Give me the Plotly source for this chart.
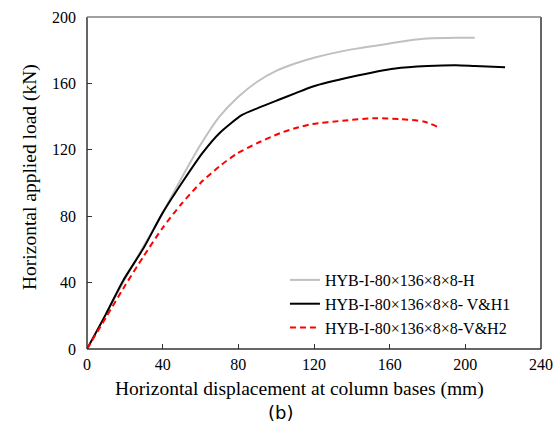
import plotly.graph_objects as go

# Series data (horizontal displacement mm, horizontal load kN)
h_x = [0, 10, 20, 30, 40, 50, 60, 70, 80, 90, 100, 110, 120, 140, 154, 170, 180, 195, 205]
h_y = [0, 21, 42, 62, 82, 103, 123, 140, 152, 161, 167.5, 172, 175.5, 180.5, 183, 185.8, 187, 187.5, 187.5]

vh1_x = [0, 10, 19, 30, 40, 51, 61, 70, 82, 90, 101, 110, 119, 140, 163, 180, 195, 205, 221]
vh1_y = [0, 21, 41, 61, 82, 101.5, 118, 130, 141, 145, 150, 154, 158, 164, 169, 170.5, 171, 170.5, 169.7]

vh2_x = [0, 10, 20, 30, 40, 50, 60, 70, 79, 90, 102, 110, 119, 135, 152, 165, 178, 185]
vh2_y = [0, 19, 38, 56, 73, 87.5, 100, 110, 117.5, 124, 130, 133, 135.5, 137.5, 139, 138.5, 137, 134]

names = ["HYB-I-80×136×8×8-H", "HYB-I-80×136×8×8- V&H1", "HYB-I-80×136×8×8-V&H2"]
x_ticks = [0, 40, 80, 120, 160, 200, 240]
y_ticks = [0, 40, 80, 120, 160, 200]

fig = go.Figure()
fig.add_trace(go.Scatter(x=h_x, y=h_y, mode="lines", name=names[0],
                         line=dict(color="#C0C0C0", width=2, shape="spline", smoothing=0.7)))
fig.add_trace(go.Scatter(x=vh1_x, y=vh1_y, mode="lines", name=names[1],
                         line=dict(color="#000000", width=2, shape="spline", smoothing=0.7)))
fig.add_trace(go.Scatter(x=vh2_x, y=vh2_y, mode="lines", name=names[2],
                         line=dict(color="#FF0000", width=2, dash="6px,4px",
                                   shape="spline", smoothing=0.7)))

serif = "Liberation Serif, Times New Roman, serif"
fig.update_layout(
    width=555, height=426,
    margin=dict(l=87, r=14, t=17, b=77, autoexpand=False),
    paper_bgcolor="white", plot_bgcolor="white",
    font=dict(family=serif, size=16, color="#000000"),
    showlegend=True,
    legend=dict(x=0.436, y=0.259, xanchor="left", yanchor="top",
                bgcolor="rgba(0,0,0,0)", font=dict(family=serif, size=16),
                tracegroupgap=0),
    xaxis=dict(range=[0, 240], tickvals=x_ticks, ticks="inside", ticklen=5,
               tickcolor="#333333", showgrid=False, zeroline=False, showline=False,
               automargin=False, ticklabelstandoff=4,
               tickfont=dict(family=serif, size=16)),
    yaxis=dict(range=[0, 200], tickvals=y_ticks, ticks="inside", ticklen=5,
               tickcolor="#333333", showgrid=False, zeroline=False, showline=False,
               automargin=False, ticklabelstandoff=10,
               tickfont=dict(family=serif, size=16)),
)
# plot frame: dark left/bottom/right, grey top
for (x0, y0, x1, y1, col) in [(0, 0, 1, 0, "#333333"), (0, 0, 0, 1, "#333333"),
                              (1, 0, 1, 1, "#333333"), (0, 1, 1, 1, "#808080")]:
    fig.add_shape(type="line", xref="paper", yref="paper", x0=x0, y0=y0, x1=x1, y1=y1,
                  line=dict(color=col, width=1.5), layer="above")
fig.add_annotation(text="Horizontal displacement at column bases (mm)", xref="paper", yref="paper",
                   x=0.469, y=-0.1205, xanchor="center", yanchor="middle", showarrow=False,
                   font=dict(family=serif, size=19.5, color="#000000"))
fig.add_annotation(text="Horizontal applied load (kN)", xref="paper", yref="paper",
                   x=-0.1256, y=0.518, xanchor="center", yanchor="middle", showarrow=False,
                   textangle=-90, font=dict(family=serif, size=19.5, color="#000000"))
fig.add_annotation(text="(a)", xref="paper", yref="paper", x=0.425, y=1.042,
                   xanchor="center", yanchor="bottom", showarrow=False,
                   font=dict(family="DejaVu Sans", size=18, color="#000000"))
fig.add_annotation(text="(b)", xref="paper", yref="paper", x=0.427, y=-0.19,
                   xanchor="center", yanchor="middle", showarrow=False,
                   font=dict(family="DejaVu Sans", size=18, color="#000000"))

fig.write_html("out.html", config={"displayModeBar": False},
               post_script="document.body.style.margin='0';document.body.style.padding='0';")
